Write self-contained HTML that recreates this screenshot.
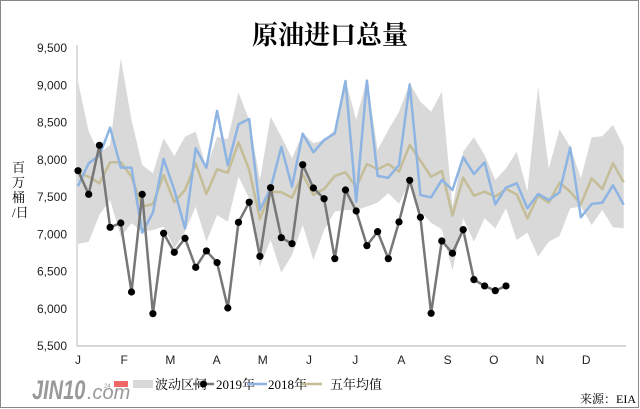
<!DOCTYPE html>
<html><head><meta charset="utf-8"><style>
body{margin:0;background:#fff;}
#wrap{position:relative;width:640px;height:409px;overflow:hidden;font-family:"Liberation Sans","Noto Sans CJK SC",sans-serif;}
</style></head><body>
<div id="wrap">
<svg id="svg" width="640" height="409" xmlns="http://www.w3.org/2000/svg">
<rect x="0.5" y="0.5" width="638" height="407" fill="#fff" stroke="#888"/>
<text x="330" y="44" text-anchor="middle" font-family="Liberation Serif,'Noto Serif CJK SC',serif" font-weight="bold" font-size="26" fill="#000">原油进口总量</text>
<text font-family="Liberation Serif,'Noto Serif CJK SC',serif" font-size="13" fill="#000"><tspan x="12" y="172">百</tspan><tspan x="12" y="187">万</tspan><tspan x="12" y="202">桶</tspan><tspan x="12" y="217">/日</tspan></text>
<g id="plot"></g>
<g>
<rect x="133" y="380" width="20" height="8" fill="#d9d9d9"/>
<text x="155" y="389" font-size="13" font-family="Liberation Serif,'Noto Serif CJK SC',serif">波动区间</text>
<line x1="193" y1="384" x2="214" y2="384" stroke="#777" stroke-width="2.5"/>
<circle cx="203.5" cy="384" r="3.5" fill="#000"/>
<text x="216" y="389" font-size="13" font-family="Liberation Serif,'Noto Serif CJK SC',serif">2019年</text>
<line x1="247" y1="384" x2="267" y2="384" stroke="#8db4e2" stroke-width="2.5"/>
<text x="268" y="389" font-size="13" font-family="Liberation Serif,'Noto Serif CJK SC',serif">2018年</text>
<line x1="302" y1="384" x2="322" y2="384" stroke="#c4bd97" stroke-width="2.5"/>
<text x="330" y="389" font-size="13" font-family="Liberation Serif,'Noto Serif CJK SC',serif">五年均值</text>
</g>
<text x="580" y="403" font-size="12" font-family="Liberation Serif,'Noto Serif CJK SC',serif">来源：EIA</text>
<g transform="translate(32,399) scale(1,1.35)">
<text x="0" y="0" font-size="20" font-style="italic" font-weight="bold" fill="#999">JIN10</text>
</g>
<text x="87" y="399" font-size="20" font-style="italic" fill="#999">.com</text>
<text x="104" y="388" font-size="6" fill="#999">24</text>
<rect x="114" y="381" width="14" height="6" fill="#e66"/>
</svg>
</div>
<script>
const months=["J","F","M","A","M","J","J","A","S","O","N","D"];
const yTicks=[5500,6000,6500,7000,7500,8000,8500,9000,9500];
const y2019=[7853,7536,8194,7093,7151,6225,7536,5934,7013,6758,6946,6556,6776,6619,6010,7160,7430,6704,7625,6954,6873,7934,7621,7477,6672,7594,7312,6847,7035,6672,7165,7724,7228,5939,6910,6745,7062,6391,6306,6243,6306];
const y2018=[7648,7953,8056,8430,7894,7894,7021,7290,8010,7594,7080,8154,7894,8655,7925,8476,8547,7326,7617,8172,7639,8350,8100,8265,8355,9057,7437,9062,7782,7759,7930,9012,7527,7496,7729,7594,8033,7809,7966,7402,7625,7684,7349,7540,7460,7563,8163,7228,7406,7424,7657,7397];
const y5yr=[7818,7773,7684,7966,7966,7773,7370,7406,7796,7430,7594,7953,7540,7872,7826,8234,7863,7205,7572,7563,7492,7805,7527,7608,7782,7832,7630,7943,7872,7943,7840,8198,7988,7773,7849,7250,7759,7518,7572,7505,7608,7536,7214,7518,7424,7692,7572,7402,7751,7608,7953,7697];
const bandHi=[9048,8377,8086,8200,9362,8534,7930,7818,8288,8050,8310,8377,7885,8310,8275,8905,8534,7729,8579,8310,8020,8355,8221,8265,8400,9070,8534,9093,8131,8400,8645,9026,8780,8645,8914,7370,8109,8302,8064,7729,7885,8109,7572,8980,7885,8409,8176,7751,8302,8315,8467,8176];
const bandLo=[6870,6900,7259,7460,6968,7147,7035,7057,7102,6812,7035,7370,6900,7259,7170,7773,7483,6565,6923,6485,6722,7125,6655,7057,7303,7326,7326,7370,7424,7550,7410,7706,7303,7155,7066,6512,7214,6900,7214,7080,7349,6923,7021,6700,6900,6977,7349,7370,7125,7326,7094,7080];
const NS="http://www.w3.org/2000/svg";
const g=document.getElementById('plot');
const X0=78,DX=10.7,Y0=346,YT=48;
const xs=i=>X0+i*DX;
const ys=v=>Y0-(v-5500)/4000*(Y0-YT);
function mk(t,a){const e=document.createElementNS(NS,t);for(const k in a)e.setAttribute(k,a[k]);g.appendChild(e);return e;}
let pts=bandHi.map((v,i)=>xs(i)+','+ys(v)).concat(bandLo.map((v,i)=>xs(i)+','+ys(v)).reverse());
const band=mk('polygon',{points:pts.join(' '),fill:'#d9d9d9'});


const ax=mk('line',{x1:77,y1:YT-3,x2:77,y2:Y0,stroke:'#bbb','stroke-width':1});


const bx=mk('line',{x1:77,y1:Y0,x2:626,y2:Y0,stroke:'#ccc','stroke-width':1.5});


yTicks.forEach(v=>{const t=mk('text',{x:67,y:ys(v)+4,'text-anchor':'end','font-size':12,fill:'#222'});t.textContent=v.toLocaleString('en-US');

});
months.forEach((m,i)=>{const t=mk('text',{x:78+i*46.2,y:364,'text-anchor':'middle','font-size':12,fill:'#222'});t.textContent=m;

});
function line(arr,col,name){const p=mk('polyline',{points:arr.map((v,i)=>xs(i)+','+ys(v)).join(' '),fill:'none',stroke:col,'stroke-width':2.5,'stroke-linejoin':'round'});

}
line(y5yr,'#c4bd97','line-5yr-avg');
line(y2018,'#8db4e2','line-2018');
line(y2019,'#777','line-2019');
y2019.forEach((v,i)=>{const c=mk('circle',{cx:xs(i),cy:ys(v),r:3.6,fill:'#000'});

});
</script>
</body></html>
